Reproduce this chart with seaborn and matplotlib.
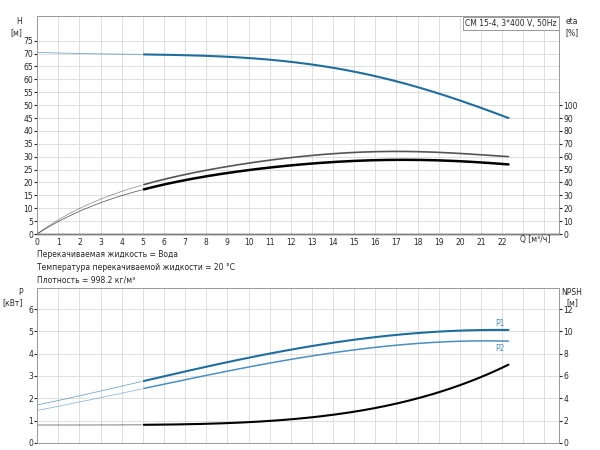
import numpy as np
import pandas as pd
import matplotlib
matplotlib.use("Agg")
import matplotlib.pyplot as plt
import seaborn as sns

sns.set_style("white")
plt.rcParams['font.family'] = ['DejaVu Sans']

q = [0, 1, 2, 3, 4, 5, 7, 9, 11, 13, 15, 17, 18, 20, 22.3]
head = [70.5, 70.2, 70.0, 69.9, 69.8, 69.7, 69.4, 68.7, 67.6, 65.8, 63.0, 59.2, 57.0, 51.8, 45.0]
eta1 = [0, 11, 20, 27, 33, 38, 46, 52.4, 57.6, 61, 63, 64, 64, 62.6, 60]
eta2 = [0, 9.5, 18, 24, 30, 34, 42, 47.4, 51.6, 54.6, 56.6, 57.6, 57.6, 56.4, 54]
qp = [0, 5, 8, 10, 12, 14, 16, 18, 20, 22.3]
p1 = [1.7, 2.78, 3.4, 3.8, 4.2, 4.5, 4.75, 4.92, 5.03, 5.07]
p2 = [1.45, 2.45, 3.0, 3.4, 3.75, 4.05, 4.3, 4.45, 4.55, 4.57]
npsh = [1.6, 1.6, 1.7, 1.9, 2.1, 2.5, 3.1, 4.0, 5.2, 7.0]

blue = "#1f6e9e"
lblue = "#4a8fc0"
grid = "#d9d9d9"
fs = 5.5


def smooth(x, y, n=200):
    xs = np.linspace(min(x), max(x), n)
    c = np.polyfit(x, y, 5 if len(x) > 10 else 4)
    return xs, np.polyval(c, xs)


def draw(ax, x, y, color, lw):
    xs, ys = smooth(x, y)
    df = pd.DataFrame({"Q": xs, "v": ys})
    sns.lineplot(data=df[df.Q <= 5], x="Q", y="v", ax=ax, color=color, lw=0.6, alpha=0.6)
    sns.lineplot(data=df[df.Q >= 5], x="Q", y="v", ax=ax, color=color, lw=lw)


def style(ax, ymax, yticks):
    ax.set_xlim(0, 24.7)
    ax.set_ylim(0, ymax)
    ax.set_xticks(range(0, 25))
    ax.set_yticks(yticks)
    ax.grid(True, color=grid, lw=0.6)
    ax.tick_params(labelsize=fs, length=2, pad=1)
    ax.set_xlabel("")
    ax.set_ylabel("")
    for s in ax.spines.values():
        s.set_color("#999999")
        s.set_linewidth(0.6)


fig = plt.figure(figsize=(6, 4.5), dpi=100)
ax = fig.add_axes([0.062, 0.48, 0.87, 0.484])
draw(ax, q, head, blue, 1.5)
style(ax, 84.5, range(0, 80, 5))
ax.set_xticklabels([str(i) if i <= 22 else "" for i in range(25)])
ax.spines["bottom"].set_color("black")
ax.spines["bottom"].set_linewidth(1)
ax.text(24.3, -0.5, "Q [м³/ч]", fontsize=fs, ha="right", va="top")
ax.text(-0.7, 84, "H\n[м]", fontsize=fs, ha="right", va="top")
ax.text(24.6, 83.5, "CM 15-4, 3*400 V, 50Hz", fontsize=fs, ha="right", va="top",
        bbox=dict(fc="white", ec="#888888", lw=0.6, pad=1.5))
ax2 = ax.twinx()
draw(ax2, q, eta1, "#555555", 1.2)
draw(ax2, q, eta2, "black", 1.8)
style(ax2, 169, range(0, 101, 10))
ax2.grid(False)
ax2.text(25.3, 168, "eta\n[%]", fontsize=fs, ha="center", va="top")

fig.text(0.062, 0.428, "Перекачиваемая жидкость = Вода", fontsize=fs)
fig.text(0.062, 0.400, "Температура перекачиваемой жидкости = 20 °C", fontsize=fs)
fig.text(0.062, 0.372, "Плотность = 998.2 кг/м³", fontsize=fs)

bx = fig.add_axes([0.062, 0.016, 0.87, 0.345])
draw(bx, qp, p1, blue, 1.5)
draw(bx, qp, p2, lblue, 1.1)
style(bx, 6.97, range(0, 7))
bx.set_xticklabels([])
bx.tick_params(axis="x", length=0)
bx.text(22.1, 5.15, "P1", fontsize=fs, color=lblue, ha="right", va="bottom")
bx.text(22.1, 4.45, "P2", fontsize=fs, color=lblue, ha="right", va="top")
bx.text(-0.7, 6.95, "P\n[кВт]", fontsize=fs, ha="right", va="top")
bx2 = bx.twinx()
draw(bx2, qp, npsh, "black", 1.5)
style(bx2, 13.94, range(0, 13, 2))
bx2.grid(False)
bx2.text(25.3, 13.9, "NPSH\n[м]", fontsize=fs, ha="center", va="top")

fig.savefig("out.png", dpi=100)
